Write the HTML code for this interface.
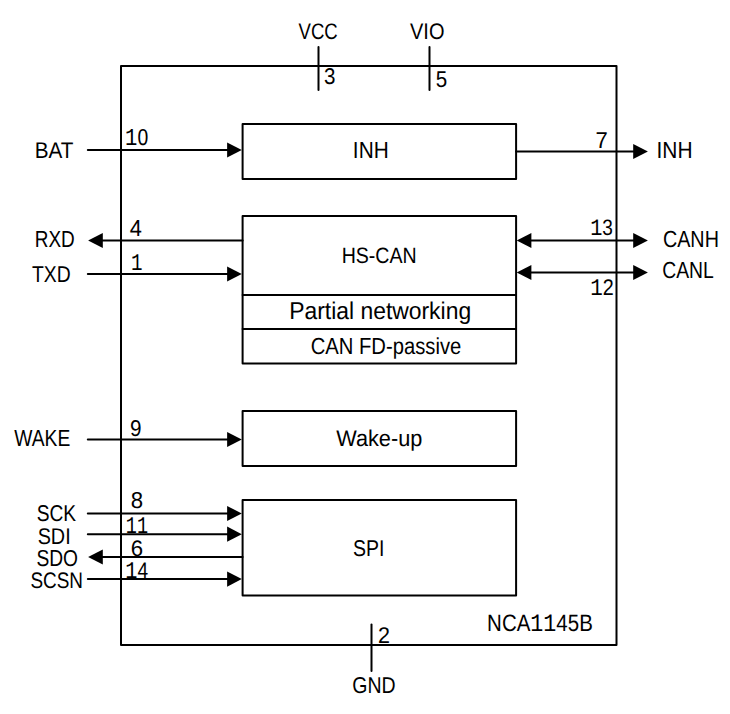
<!DOCTYPE html>
<html><head><meta charset="utf-8"><style>
html,body{margin:0;padding:0;background:#fff;}
svg{display:block;}
text{font-family:"Liberation Sans",sans-serif;fill:#000;text-rendering:geometricPrecision;}
</style></head><body>
<svg width="730" height="714" viewBox="0 0 730 714">
<rect x="0" y="0" width="730" height="714" fill="#fff"/>
<g id="shp" fill="none" stroke="#000" stroke-width="2" stroke-linejoin="round" stroke-linecap="round">
<rect x="121" y="66" width="495.5" height="579"/>
<line x1="318.5" y1="47" x2="318.5" y2="90"/>
<line x1="429.5" y1="47" x2="429.5" y2="90"/>
<line x1="371.5" y1="624.4" x2="371.5" y2="670.9"/>
<rect x="242.6" y="124" width="273.5" height="55"/>
<rect x="242.6" y="216" width="273.5" height="147.5"/>
<rect x="242.6" y="411.1" width="273.5" height="54.9"/>
<rect x="242.6" y="500" width="273.5" height="95.5"/>
<line x1="242.6" y1="295" x2="516.1" y2="295"/>
<line x1="242.6" y1="329" x2="516.1" y2="329"/>
<line x1="87.8" y1="150" x2="228.1" y2="150"/>
<line x1="516.1" y1="151.5" x2="634.2" y2="151.5"/>
<line x1="101.8" y1="240.5" x2="242.6" y2="240.5"/>
<line x1="87.8" y1="274" x2="228.1" y2="274"/>
<line x1="530.4" y1="240.5" x2="634.2" y2="240.5"/>
<line x1="530.4" y1="272.5" x2="634.2" y2="272.5"/>
<line x1="87.8" y1="439.5" x2="228.1" y2="439.5"/>
<line x1="87.8" y1="513.5" x2="228.1" y2="513.5"/>
<line x1="87.8" y1="534.2" x2="228.1" y2="534.2"/>
<line x1="101.8" y1="557.0" x2="242.6" y2="557.0"/>
<line x1="87.8" y1="579.1" x2="228.1" y2="579.1"/>
</g>
<g id="hds" fill="#000" stroke="none">
<polygon points="241.8,150 227.1,142.4 227.1,157.6"/>
<polygon points="647.9,151.5 633.2,143.9 633.2,159.1"/>
<polygon points="88.1,240.5 102.8,232.9 102.8,248.1"/>
<polygon points="241.8,274 227.1,266.4 227.1,281.6"/>
<polygon points="516.7,240.5 531.4,232.9 531.4,248.1"/>
<polygon points="647.9,240.5 633.2,232.9 633.2,248.1"/>
<polygon points="516.7,272.5 531.4,264.9 531.4,280.1"/>
<polygon points="647.9,272.5 633.2,264.9 633.2,280.1"/>
<polygon points="241.8,439.5 227.1,431.9 227.1,447.1"/>
<polygon points="241.8,513.5 227.1,505.9 227.1,521.1"/>
<polygon points="241.8,534.2 227.1,526.6 227.1,541.8"/>
<polygon points="88.1,557.0 102.8,549.4 102.8,564.6"/>
<polygon points="241.8,579.1 227.1,571.5 227.1,586.7"/>
</g>
<g id="txt">
<text x="298.60" y="38.58" font-size="22.39" textLength="39.12" lengthAdjust="spacingAndGlyphs">VCC</text>
<text x="410.04" y="38.77" font-size="22.68" textLength="34.46" lengthAdjust="spacingAndGlyphs">VIO</text>
<text x="323.98" y="83.87" font-size="22.82" textLength="11.43" lengthAdjust="spacingAndGlyphs">3</text>
<text x="435.85" y="86.87" font-size="22.86" textLength="11.44" lengthAdjust="spacingAndGlyphs">5</text>
<text x="34.73" y="157.70" font-size="22.68" textLength="38.76" lengthAdjust="spacingAndGlyphs">BAT</text>
<text x="125.10" y="144.97" font-size="22.96" textLength="23.10" lengthAdjust="spacingAndGlyphs"><tspan font-family="Liberation Mono" font-size="106%">1</tspan>0</text>
<text x="352.87" y="157.90" font-size="23.19" textLength="35.82" lengthAdjust="spacingAndGlyphs">INH</text>
<text x="595.49" y="147.90" font-size="23.04" textLength="12.30" lengthAdjust="spacingAndGlyphs">7</text>
<text x="656.52" y="158.00" font-size="23.19" textLength="36.05" lengthAdjust="spacingAndGlyphs">INH</text>
<text x="34.69" y="247.00" font-size="23.33" textLength="40.05" lengthAdjust="spacingAndGlyphs">RXD</text>
<text x="129.69" y="236.00" font-size="23.19" textLength="12.10" lengthAdjust="spacingAndGlyphs">4</text>
<text x="32.03" y="281.90" font-size="23.04" textLength="38.68" lengthAdjust="spacingAndGlyphs">TXD</text>
<text x="130.99" y="270.10" font-size="22.71" textLength="11.50" lengthAdjust="spacingAndGlyphs"><tspan font-family="Liberation Mono" font-size="106%">1</tspan></text>
<text x="341.64" y="262.68" font-size="22.25" textLength="75.04" lengthAdjust="spacingAndGlyphs">HS-CAN</text>
<text x="289.19" y="319.00" font-size="24.30" textLength="181.93" lengthAdjust="spacingAndGlyphs">Partial networking</text>
<text x="310.63" y="353.92" font-size="23.23" textLength="150.64" lengthAdjust="spacingAndGlyphs">CAN FD-passive</text>
<text x="590.25" y="234.58" font-size="22.25" textLength="22.71" lengthAdjust="spacingAndGlyphs"><tspan font-family="Liberation Mono" font-size="106%">1</tspan>3</text>
<text x="590.22" y="294.80" font-size="22.57" textLength="23.52" lengthAdjust="spacingAndGlyphs"><tspan font-family="Liberation Mono" font-size="106%">1</tspan>2</text>
<text x="662.92" y="246.87" font-size="23.38" textLength="56.00" lengthAdjust="spacingAndGlyphs">CANH</text>
<text x="662.21" y="277.97" font-size="23.24" textLength="51.59" lengthAdjust="spacingAndGlyphs">CANL</text>
<text x="14.32" y="446.00" font-size="23.33" textLength="56.01" lengthAdjust="spacingAndGlyphs">WAKE</text>
<text x="130.00" y="435.77" font-size="22.82" textLength="11.51" lengthAdjust="spacingAndGlyphs">9</text>
<text x="336.26" y="445.94" font-size="22.69" textLength="86.06" lengthAdjust="spacingAndGlyphs">Wake-up</text>
<text x="36.74" y="520.77" font-size="22.82" textLength="39.41" lengthAdjust="spacingAndGlyphs">SCK</text>
<text x="37.64" y="543.77" font-size="22.68" textLength="33.05" lengthAdjust="spacingAndGlyphs">SDI</text>
<text x="36.43" y="565.87" font-size="23.10" textLength="41.64" lengthAdjust="spacingAndGlyphs">SDO</text>
<text x="30.45" y="587.85" font-size="22.49" textLength="52.59" lengthAdjust="spacingAndGlyphs">SCSN</text>
<text x="130.67" y="508.27" font-size="22.96" textLength="12.36" lengthAdjust="spacingAndGlyphs">8</text>
<text x="125.84" y="532.70" font-size="22.57" textLength="22.26" lengthAdjust="spacingAndGlyphs"><tspan font-family="Liberation Mono" font-size="106%">1</tspan><tspan font-family="Liberation Mono" font-size="106%">1</tspan></text>
<text x="130.65" y="555.97" font-size="22.54" textLength="12.32" lengthAdjust="spacingAndGlyphs">6</text>
<text x="125.26" y="578.00" font-size="22.57" textLength="22.79" lengthAdjust="spacingAndGlyphs"><tspan font-family="Liberation Mono" font-size="106%">1</tspan>4</text>
<text x="352.93" y="555.67" font-size="22.75" textLength="31.46" lengthAdjust="spacingAndGlyphs">SPI</text>
<text x="487.11" y="630.66" font-size="23.66" textLength="105.68" lengthAdjust="spacingAndGlyphs">NCA<tspan font-family="Liberation Mono" font-size="106%">1</tspan><tspan font-family="Liberation Mono" font-size="106%">1</tspan>45B</text>
<text x="377.98" y="642.80" font-size="22.71" textLength="12.00" lengthAdjust="spacingAndGlyphs">2</text>
<text x="352.35" y="692.92" font-size="23.03" textLength="43.35" lengthAdjust="spacingAndGlyphs">GND</text>
</g>
</svg>
</body></html>
